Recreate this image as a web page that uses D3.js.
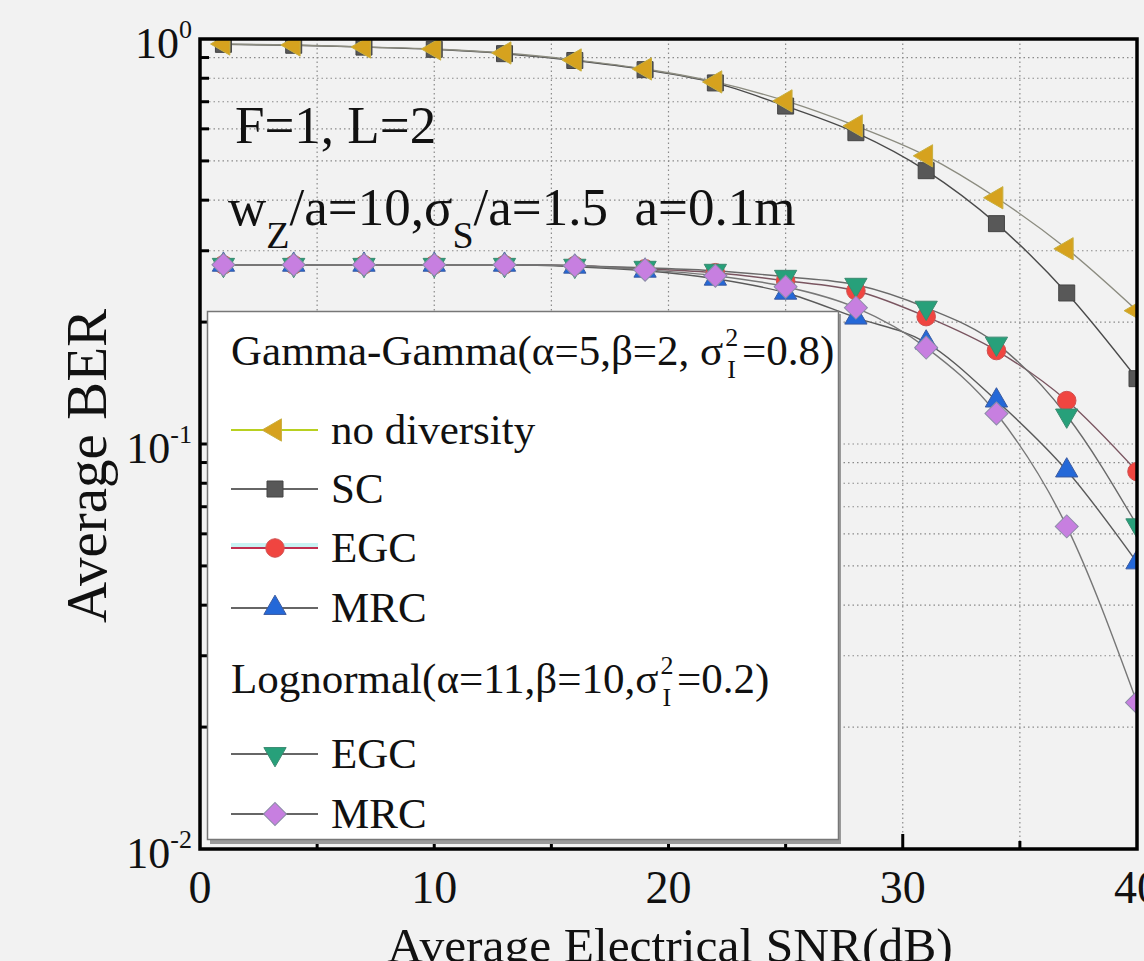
<!DOCTYPE html>
<html>
<head>
<meta charset="utf-8">
<script src="https://cdn.jsdelivr.net/npm/d3@7"></script>
<style>
  html, body { margin: 0; padding: 0; background: #f2f2f2; }
  text { font-family: "Liberation Serif", "Times New Roman", serif; fill: #111; white-space: pre; }
</style>
</head>
<body>
<svg id="chart" width="1144" height="961"></svg>
<script>
// SNR points (dB)
var snr = [1, 4, 7, 10, 13, 16, 19, 22, 25, 28, 31, 34, 37, 40];

// Gamma-Gamma
var noDiversity = [0.972, 0.9665, 0.9556, 0.9448, 0.9236, 0.8875, 0.8434, 0.7834, 0.7033, 0.6101, 0.5146, 0.4055, 0.3034, 0.2134];
var scBer = [0.970, 0.965, 0.955, 0.943, 0.920, 0.885, 0.840, 0.779, 0.683, 0.587, 0.473, 0.350, 0.236, 0.145];
var egcGG = [0.277, 0.277, 0.277, 0.277, 0.277, 0.2756, 0.2709, 0.2648, 0.2530, 0.2390, 0.2063, 0.1701, 0.1280, 0.0855];
var mrcGG = [0.277, 0.277, 0.277, 0.277, 0.277, 0.2740, 0.2678, 0.2559, 0.2363, 0.2051, 0.1780, 0.1280, 0.0860, 0.0510];
// Lognormal
var egcLN = [0.277, 0.277, 0.277, 0.277, 0.277, 0.2756, 0.2724, 0.2678, 0.2588, 0.2473, 0.2171, 0.1770, 0.1176, 0.0630];
var mrcLN = [0.277, 0.277, 0.277, 0.277, 0.277, 0.2756, 0.2693, 0.2603, 0.2445, 0.2171, 0.1730, 0.1189, 0.0626, 0.0230];

var xTicks = [0, 10, 20, 30, 40];
var xMinor = [5, 15, 25, 35];
var yMajor = [1, 0.1, 0.01];
var yExp = ["0", "-1", "-2"];

var svg = d3.select("#chart");

var x = d3.scaleLinear().domain([0, 40]).range([200, 1137]);
var y = d3.scaleLog().domain([1, 0.01]).range([39, 849]);

var pLeft = x(0), pRight = x(40), pTop = y(1), pBottom = y(0.01);

// minor y values 2..9 per decade
var yMinor = [];
[0.1, 0.01].forEach(function(d) {
  for (var k = 2; k <= 9; k++) yMinor.push(+(d * k).toFixed(4));
});

svg.append("rect").attr("width", 1144).attr("height", 961).attr("fill", "#f2f2f2");

svg.append("defs").append("clipPath").attr("id", "plotclip")
  .append("rect").attr("x", pLeft).attr("y", pTop).attr("width", pRight - pLeft).attr("height", pBottom - pTop);

// grid
var grid = svg.append("g").attr("stroke", "#8a8a8a").attr("stroke-width", 1.2).attr("stroke-dasharray", "1.5,3");
grid.selectAll("line.gx").data(xMinor.concat([10, 20, 30])).enter().append("line")
  .attr("x1", function(d) { return x(d); }).attr("x2", function(d) { return x(d); })
  .attr("y1", pTop).attr("y2", pBottom);
grid.selectAll("line.gy").data(yMinor.concat([0.1])).enter().append("line")
  .attr("x1", pLeft).attr("x2", pRight)
  .attr("y1", function(d) { return y(d); }).attr("y2", function(d) { return y(d); });

var series = [
  { name: "SC", values: scBer, line: "#4a4a4a", fill: "#585858", stroke: "#444", shape: "square" },
  { name: "no diversity", values: noDiversity, line: "#8c8c80", fill: "#d6a21e", stroke: "#c8b040", shape: "left" },
  { name: "EGC", values: egcGG, line: "#7a5560", fill: "#f04540", stroke: "#d05050", shape: "circle" },
  { name: "MRC", values: mrcGG, line: "#5a5a5a", fill: "#2468d8", stroke: "#3a5aa0", shape: "up" },
  { name: "EGC", values: egcLN, line: "#6a6a6a", fill: "#27a07a", stroke: "#3a8a70", shape: "down" },
  { name: "MRC", values: mrcLN, line: "#777", fill: "#c77fe0", stroke: "#8c8ca8", shape: "diamond" }
];

function symbolPath(shape) {
  if (shape === "square") return d3.symbol(d3.symbolSquare, 256)();
  if (shape === "circle") return d3.symbol(d3.symbolCircle, 270)();
  if (shape === "diamond") return d3.symbol(d3.symbolSquare, 265)();
  return d3.symbol(d3.symbolTriangle, 215)();
}
function symbolRotate(shape) {
  if (shape === "left") return " rotate(-90)";
  if (shape === "down") return " rotate(180)";
  if (shape === "diamond") return " rotate(45)";
  return "";
}

var line = d3.line()
  .x(function(d, i) { return x(snr[i]); })
  .y(function(d) { return y(d); })
  .curve(d3.curveMonotoneX);

var plot = svg.append("g").attr("clip-path", "url(#plotclip)");

series.forEach(function(s) {
  plot.append("path").datum(s.values)
    .attr("d", line).attr("fill", "none")
    .attr("stroke", s.line).attr("stroke-width", 1.4);
});
series.forEach(function(s) {
  plot.selectAll(null).data(s.values).enter().append("path")
    .attr("d", symbolPath(s.shape))
    .attr("transform", function(d, i) { return "translate(" + x(snr[i]) + "," + y(d) + ")" + symbolRotate(s.shape); })
    .attr("fill", s.fill).attr("stroke", s.stroke).attr("stroke-width", 1);
});

// frame
svg.append("rect").attr("x", pLeft).attr("y", pTop).attr("width", pRight - pLeft).attr("height", pBottom - pTop)
  .attr("fill", "none").attr("stroke", "#000").attr("stroke-width", 3.5);

// ticks (inward)
var ticks = svg.append("g").attr("stroke", "#000").attr("stroke-width", 3);
ticks.selectAll("line.xt").data(xTicks.slice(1, 4)).enter().append("line")
  .attr("x1", function(d) { return x(d); }).attr("x2", function(d) { return x(d); })
  .attr("y1", pBottom).attr("y2", pBottom - 15);
ticks.selectAll("line.xm").data(xMinor).enter().append("line")
  .attr("x1", function(d) { return x(d); }).attr("x2", function(d) { return x(d); })
  .attr("y1", pBottom).attr("y2", pBottom - 8);
ticks.selectAll("line.ym").data(yMinor).enter().append("line")
  .attr("x1", pLeft).attr("x2", pLeft + 9)
  .attr("y1", function(d) { return y(d); }).attr("y2", function(d) { return y(d); });
ticks.selectAll("line.yt").data([0.1]).enter().append("line")
  .attr("x1", pLeft).attr("x2", pLeft + 15)
  .attr("y1", function(d) { return y(d); }).attr("y2", function(d) { return y(d); });

// tick labels
svg.selectAll("text.xl").data(xTicks).enter().append("text")
  .attr("x", function(d) { return x(d); }).attr("y", 903)
  .attr("text-anchor", "middle").attr("font-size", 46)
  .text(function(d) { return d; });

var yl = svg.selectAll("text.yl").data(yMajor).enter().append("text")
  .attr("x", 192).attr("y", function(d) { return y(d) + 19; })
  .attr("text-anchor", "end").attr("font-size", 44);
yl.append("tspan").text("10");
yl.append("tspan").attr("font-size", 26).attr("dy", -20).text(function(d, i) { return yExp[i]; });

// axis titles
svg.append("text").attr("x", 670).attr("y", 962).attr("text-anchor", "middle")
  .attr("font-size", 49.5).text("Average Electrical SNR(dB)");
svg.append("text").attr("transform", "translate(106,466) rotate(-90)")
  .attr("text-anchor", "middle").attr("font-size", 57).text("Average BER");

// annotations
svg.append("text").attr("x", 235).attr("y", 143).attr("font-size", 53).text("F=1, L=2");
var ann = svg.append("text").attr("x", 228).attr("y", 225).attr("font-size", 53);
ann.append("tspan").text("w");
ann.append("tspan").attr("font-size", 38).attr("dy", 23).text("Z");
ann.append("tspan").attr("dy", -23).text("/a=10,σ");
ann.append("tspan").attr("font-size", 38).attr("dy", 23).text("S");
ann.append("tspan").attr("dy", -23).text("/a=1.5  a=0.1m");

// legend
var lg = svg.append("g");
lg.append("rect").attr("x", 210).attr("y", 314).attr("width", 631).attr("height", 530).attr("fill", "#9a9a9a");
lg.append("rect").attr("x", 207.5).attr("y", 311.5).attr("width", 631).attr("height", 528)
  .attr("fill", "#fff").attr("stroke", "#777").attr("stroke-width", 1.5);

function groupTitle(yPos, main, rest) {
  var t = lg.append("text").attr("x", 231).attr("y", yPos).attr("font-size", 43);
  t.append("tspan").text(main);
  t.append("tspan").attr("font-size", 26).attr("dx", 2).attr("dy", -19).text("2");
  t.append("tspan").attr("font-size", 26).attr("dx", -11).attr("dy", 32).text("I");
  t.append("tspan").attr("dx", 6).attr("dy", -13).text(rest);
}
groupTitle(365, "Gamma-Gamma(α=5,β=2, σ", "=0.8)");
groupTitle(693, "Lognormal(α=11,β=10,σ", "=0.2)");

var legendRows = [
  { s: series[1], y: 430, lineColor: "#b8d020" },
  { s: series[0], y: 489, lineColor: "#666" },
  { s: series[2], y: 548, lineColor: "#c03050" },
  { s: series[3], y: 608, lineColor: "#666" },
  { s: series[4], y: 754, lineColor: "#666" },
  { s: series[5], y: 814, lineColor: "#666" }
];
legendRows.forEach(function(r) {
  if (r.s.shape === "circle") {
    lg.append("line").attr("x1", 231).attr("x2", 318).attr("y1", r.y - 3).attr("y2", r.y - 3)
      .attr("stroke", "#c8f4f4").attr("stroke-width", 4);
  }
  lg.append("line").attr("x1", 231).attr("x2", 318).attr("y1", r.y).attr("y2", r.y)
    .attr("stroke", r.lineColor).attr("stroke-width", 2);
  lg.append("path").attr("d", symbolPath(r.s.shape))
    .attr("transform", "translate(275," + r.y + ")" + symbolRotate(r.s.shape))
    .attr("fill", r.s.fill).attr("stroke", r.s.stroke).attr("stroke-width", 1);
  lg.append("text").attr("x", 331).attr("y", r.y + 14).attr("font-size", 43).text(r.s.name);
});
</script>
</body>
</html>
